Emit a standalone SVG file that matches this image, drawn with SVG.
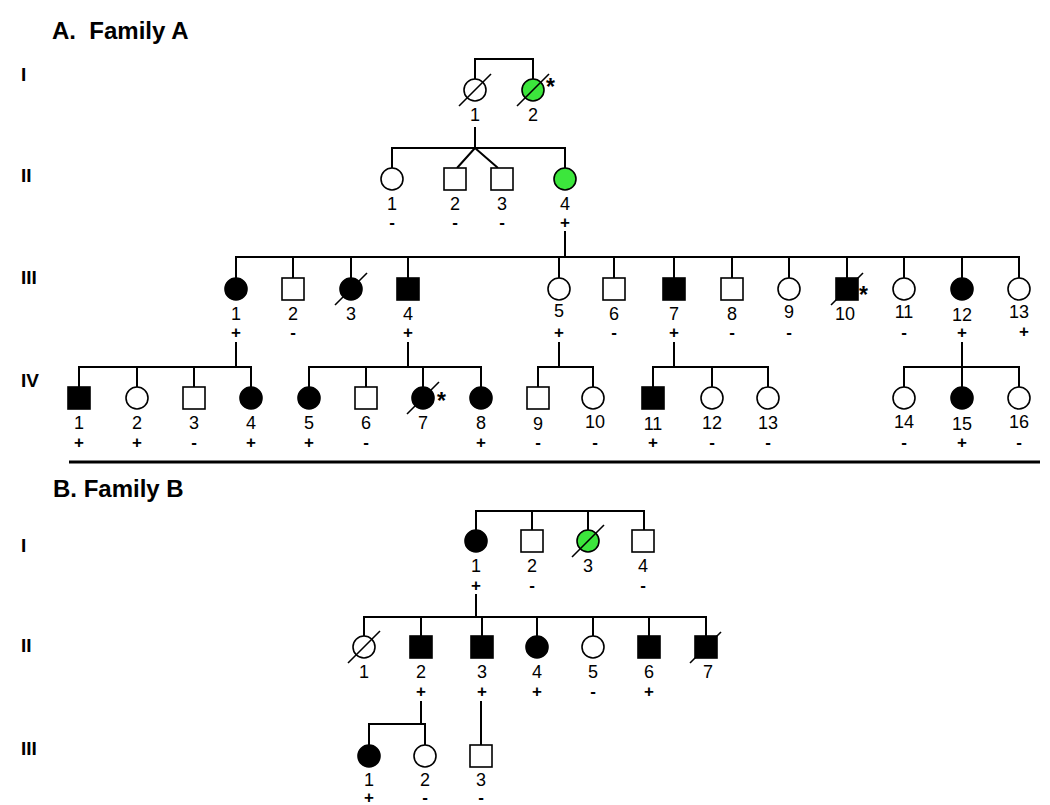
<svg xmlns="http://www.w3.org/2000/svg" width="1050" height="805" viewBox="0 0 1050 805">
<style>
.ln{stroke:#000;stroke-width:2;fill:none}
.e{fill:#fff;stroke:#000;stroke-width:1.6}
.f{fill:#000;stroke:#000;stroke-width:1.6}
.g{fill:#3ce63c;stroke:#000;stroke-width:1.6}
.sl{stroke:#000;stroke-width:1.6}
text{font-family:"Liberation Sans",Arial,sans-serif;fill:#000}
.n{font-size:18px;text-anchor:middle}
.s{font-size:17px;font-weight:bold;text-anchor:middle}
.ast{font-size:23px;font-weight:bold}
.gen{font-size:19px;font-weight:bold}
.ttl{font-size:24px;font-weight:bold}
</style>
<rect width="1050" height="805" fill="#fff"/>
<g id="titles">
<text class="ttl" x="52" y="39" xml:space="preserve">A.  Family A</text>
<text class="ttl" x="53" y="497">B. Family B</text>
<text class="gen" x="21" y="81">I</text>
<text class="gen" x="21" y="182">II</text>
<text class="gen" x="21" y="284">III</text>
<text class="gen" x="21" y="387">IV</text>
<text class="gen" x="21" y="552">I</text>
<text class="gen" x="21" y="652">II</text>
<text class="gen" x="21" y="755">III</text>
</g>
<g id="connectors">
<path class="ln" d="M475 79V59H533V79"/>
<path class="ln" d="M475 127V148M392 168V148H565V168M475 148L457 168M475 148L498 168"/>
<path class="ln" d="M565 231V257M236 278V257H1019V278M293 257V278M351 257V278M408 257V278M559 257V278M614 257V278M674 257V278M732 257V278M789 257V278M847 257V278M904 257V278M962 257V278"/>
<path class="ln" d="M236 342V367M79 387V367H251V387M137 367V387M194 367V387"/>
<path class="ln" d="M408 342V367M309 387V367H481V387M366 367V387M423 367V387"/>
<path class="ln" d="M559 342V367M538 387V367H593V387"/>
<path class="ln" d="M674 342V367M653 387V367H768V387M712 367V387"/>
<path class="ln" d="M962 342V387M904 387V367H1019V387"/>
<path d="M69 462H1040" stroke="#000" stroke-width="3"/>
<path class="ln" d="M476 530V511H644V530M532 511V530M588 511V530"/>
<path class="ln" d="M476 594V617M364 636V617H706V636M421 617V636M482 617V636M537 617V636M593 617V636M649 617V636"/>
<path class="ln" d="M421 701V724M369 745V724H425V745"/>
<path class="ln" d="M481 701V745"/>
</g>
<g id="A-I-1"><circle class="e" cx="475" cy="90" r="11"/><line class="sl" x1="459" y1="106" x2="491" y2="74"/><text class="n" x="475" y="120.5">1</text></g>
<g id="A-I-2"><circle class="g" cx="533" cy="90" r="11"/><line class="sl" x1="517" y1="106" x2="549" y2="74"/><text class="ast" x="546" y="95">*</text><text class="n" x="533" y="120.5">2</text></g>

<g id="A-II-1"><circle class="e" cx="392" cy="179" r="11"/><text class="n" x="392" y="209.5">1</text><text class="s" x="392" y="227.5">-</text></g>
<g id="A-II-2"><rect class="e" x="444" y="168" width="22" height="22"/><text class="n" x="455" y="209.5">2</text><text class="s" x="455" y="227.5">-</text></g>
<g id="A-II-3"><rect class="e" x="491" y="168" width="22" height="22"/><text class="n" x="502" y="209.5">3</text><text class="s" x="502" y="227.5">-</text></g>
<g id="A-II-4"><circle class="g" cx="565" cy="179" r="11"/><text class="n" x="565" y="209.5">4</text><text class="s" x="565" y="227.5">+</text></g>

<g id="A-III-1"><circle class="f" cx="236" cy="289" r="11"/><text class="n" x="236" y="319.5">1</text><text class="s" x="236" y="338">+</text></g>
<g id="A-III-2"><rect class="e" x="282" y="278" width="22" height="22"/><text class="n" x="293" y="319.5">2</text><text class="s" x="293" y="338">-</text></g>
<g id="A-III-3"><circle class="f" cx="351" cy="289" r="11"/><line class="sl" x1="335" y1="305" x2="367" y2="273"/><text class="n" x="351" y="319.5">3</text></g>
<g id="A-III-4"><rect class="f" x="397" y="278" width="22" height="22"/><text class="n" x="408" y="319.5">4</text><text class="s" x="408" y="338">+</text></g>
<g id="A-III-5"><circle class="e" cx="559" cy="289" r="11"/><text class="n" x="559" y="317">5</text><text class="s" x="559" y="338">+</text></g>
<g id="A-III-6"><rect class="e" x="603" y="278" width="22" height="22"/><text class="n" x="614" y="319.5">6</text><text class="s" x="614" y="338">-</text></g>
<g id="A-III-7"><rect class="f" x="663" y="278" width="22" height="22"/><text class="n" x="674" y="319.5">7</text><text class="s" x="674" y="338">+</text></g>
<g id="A-III-8"><rect class="e" x="721" y="278" width="22" height="22"/><text class="n" x="732" y="319.5">8</text><text class="s" x="732" y="338">-</text></g>
<g id="A-III-9"><circle class="e" cx="789" cy="289" r="11"/><text class="n" x="789" y="318">9</text><text class="s" x="789" y="338">-</text></g>
<g id="A-III-10"><rect class="f" x="836" y="278" width="22" height="22"/><line class="sl" x1="831" y1="305" x2="863" y2="273"/><text class="ast" x="859" y="303">*</text><text class="n" x="845" y="319.5">10</text></g>
<g id="A-III-11"><circle class="e" cx="904" cy="289" r="11"/><text class="n" x="904" y="318">11</text><text class="s" x="904" y="338">-</text></g>
<g id="A-III-12"><circle class="f" cx="962" cy="289" r="11"/><text class="n" x="962" y="320.5">12</text><text class="s" x="962" y="338">+</text></g>
<g id="A-III-13"><circle class="e" cx="1019" cy="289" r="11"/><text class="n" x="1019" y="318">13</text><text class="s" x="1024" y="337">+</text></g>

<g id="A-IV-1"><rect class="f" x="68" y="387" width="22" height="22"/><text class="n" x="79" y="428.5">1</text><text class="s" x="79" y="447.5">+</text></g>
<g id="A-IV-2"><circle class="e" cx="137" cy="398" r="11"/><text class="n" x="137" y="428.5">2</text><text class="s" x="137" y="447.5">+</text></g>
<g id="A-IV-3"><rect class="e" x="183" y="387" width="22" height="22"/><text class="n" x="194" y="428.5">3</text><text class="s" x="194" y="447.5">-</text></g>
<g id="A-IV-4"><circle class="f" cx="251" cy="398" r="11"/><text class="n" x="251" y="428.5">4</text><text class="s" x="251" y="447.5">+</text></g>
<g id="A-IV-5"><circle class="f" cx="309" cy="398" r="11"/><text class="n" x="309" y="428.5">5</text><text class="s" x="309" y="447.5">+</text></g>
<g id="A-IV-6"><rect class="e" x="355" y="387" width="22" height="22"/><text class="n" x="366" y="428.5">6</text><text class="s" x="366" y="447.5">-</text></g>
<g id="A-IV-7"><circle class="f" cx="423" cy="398" r="11"/><line class="sl" x1="407" y1="414" x2="439" y2="382"/><text class="ast" x="437" y="409">*</text><text class="n" x="423" y="428.5">7</text></g>
<g id="A-IV-8"><circle class="f" cx="481" cy="398" r="11"/><text class="n" x="481" y="428.5">8</text><text class="s" x="481" y="447.5">+</text></g>
<g id="A-IV-9"><rect class="e" x="527" y="387" width="22" height="22"/><text class="n" x="538" y="430">9</text><text class="s" x="538" y="447.5">-</text></g>
<g id="A-IV-10"><circle class="e" cx="593" cy="398" r="11"/><text class="n" x="595" y="428">10</text><text class="s" x="595" y="447.5">-</text></g>
<g id="A-IV-11"><rect class="f" x="642" y="387" width="22" height="22"/><text class="n" x="653" y="430">11</text><text class="s" x="653" y="447.5">+</text></g>
<g id="A-IV-12"><circle class="e" cx="712" cy="398" r="11"/><text class="n" x="712" y="428.5">12</text><text class="s" x="712" y="447.5">-</text></g>
<g id="A-IV-13"><circle class="e" cx="768" cy="398" r="11"/><text class="n" x="768" y="428.5">13</text><text class="s" x="768" y="447.5">-</text></g>
<g id="A-IV-14"><circle class="e" cx="904" cy="398" r="11"/><text class="n" x="904" y="428">14</text><text class="s" x="904" y="447.5">-</text></g>
<g id="A-IV-15"><circle class="f" cx="962" cy="398" r="11"/><text class="n" x="962" y="430">15</text><text class="s" x="962" y="447.5">+</text></g>
<g id="A-IV-16"><circle class="e" cx="1019" cy="398" r="11"/><text class="n" x="1019" y="428">16</text><text class="s" x="1019" y="447.5">-</text></g>

<g id="B-I-1"><circle class="f" cx="476" cy="541" r="11"/><text class="n" x="476" y="572">1</text><text class="s" x="476" y="590.5">+</text></g>
<g id="B-I-2"><rect class="e" x="521" y="530" width="22" height="22"/><text class="n" x="532" y="572">2</text><text class="s" x="532" y="590.5">-</text></g>
<g id="B-I-3"><circle class="g" cx="588" cy="541" r="11"/><line class="sl" x1="572" y1="557" x2="604" y2="525"/><text class="n" x="588" y="572">3</text></g>
<g id="B-I-4"><rect class="e" x="632" y="530" width="22" height="22"/><text class="n" x="643" y="572">4</text><text class="s" x="643" y="590.5">-</text></g>

<g id="B-II-1"><circle class="e" cx="364" cy="647" r="11"/><line class="sl" x1="348" y1="663" x2="380" y2="631"/><text class="n" x="364" y="678">1</text></g>
<g id="B-II-2"><rect class="f" x="410" y="636" width="22" height="22"/><text class="n" x="421" y="678">2</text><text class="s" x="421" y="696.5">+</text></g>
<g id="B-II-3"><rect class="f" x="471" y="636" width="22" height="22"/><text class="n" x="482" y="678">3</text><text class="s" x="482" y="696.5">+</text></g>
<g id="B-II-4"><circle class="f" cx="537" cy="647" r="11"/><text class="n" x="537" y="678">4</text><text class="s" x="537" y="696.5">+</text></g>
<g id="B-II-5"><circle class="e" cx="593" cy="647" r="11"/><text class="n" x="593" y="678">5</text><text class="s" x="593" y="696.5">-</text></g>
<g id="B-II-6"><rect class="f" x="638" y="636" width="22" height="22"/><text class="n" x="649" y="678">6</text><text class="s" x="649" y="696.5">+</text></g>
<g id="B-II-7"><rect class="f" x="695" y="636" width="22" height="22"/><line class="sl" x1="690" y1="663" x2="721" y2="632"/><text class="n" x="708" y="678">7</text></g>

<g id="B-III-1"><circle class="f" cx="369" cy="756" r="11"/><text class="n" x="369" y="785.5">1</text><text class="s" x="369" y="803">+</text></g>
<g id="B-III-2"><circle class="e" cx="425" cy="756" r="11"/><text class="n" x="425" y="785.5">2</text><text class="s" x="425" y="803">-</text></g>
<g id="B-III-3"><rect class="e" x="470" y="745" width="22" height="22"/><text class="n" x="481" y="785.5">3</text><text class="s" x="481" y="803">-</text></g>
</svg>
